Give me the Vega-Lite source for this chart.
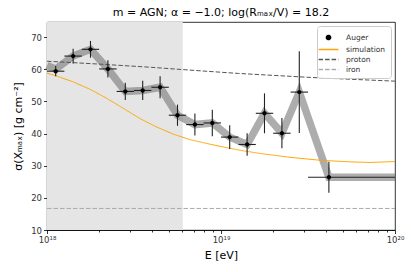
{
  "$schema": "https://vega.github.io/schema/vega-lite/v6.json",
  "autosize": {"type": "none"},
  "width": 348,
  "height": 208,
  "padding": {"left": 47, "top": 22, "right": 16, "bottom": 42},
  "title": {"text": "m = AGN; α = −1.0; log(Rₘₐₓ/V) = 18.2", "font": "DejaVu Sans", "fontSize": 11, "fontWeight": "normal", "offset": 4, "color": "#000"},
  "config": {
    "view": {"stroke": "#000", "strokeWidth": 0.8},
    "axis": {"labelFont": "DejaVu Sans", "titleFont": "DejaVu Sans", "labelFontSize": 8.5, "titleFontSize": 11, "titleFontWeight": "normal", "labelColor": "#333", "titleColor": "#000", "domainColor": "#000", "tickColor": "#000", "grid": false, "domainWidth": 0.8, "tickWidth": 0.8, "labelOverlap": false},
    "axisY": {"labelOverlap": false, "tickCount": 7},
    "legend": {"labelFont": "DejaVu Sans", "labelFontSize": 7.5, "labelColor": "#333"}
  },
  "datasets": {
    "auger": [
      {"series": "Auger", "E": 1.122e18, "Elo": 1e18, "Ehi": 1.259e18, "sigma": 59.4, "lo": 57.8, "hi": 61.0},
      {"series": "Auger", "E": 1.413e18, "Elo": 1.259e18, "Ehi": 1.585e18, "sigma": 64.1, "lo": 61.8, "hi": 66.4},
      {"series": "Auger", "E": 1.778e18, "Elo": 1.585e18, "Ehi": 1.995e18, "sigma": 66.2, "lo": 63.6, "hi": 68.8},
      {"series": "Auger", "E": 2.239e18, "Elo": 1.995e18, "Ehi": 2.512e18, "sigma": 60.1, "lo": 57.4, "hi": 62.8},
      {"series": "Auger", "E": 2.818e18, "Elo": 2.512e18, "Ehi": 3.162e18, "sigma": 53.1, "lo": 50.4, "hi": 55.8},
      {"series": "Auger", "E": 3.548e18, "Elo": 3.162e18, "Ehi": 3.981e18, "sigma": 53.4, "lo": 50.4, "hi": 56.4},
      {"series": "Auger", "E": 4.467e18, "Elo": 3.981e18, "Ehi": 5.012e18, "sigma": 54.4, "lo": 51.0, "hi": 57.8},
      {"series": "Auger", "E": 5.623e18, "Elo": 5.012e18, "Ehi": 6.310e18, "sigma": 45.7, "lo": 42.4, "hi": 49.0},
      {"series": "Auger", "E": 7.079e18, "Elo": 6.310e18, "Ehi": 7.943e18, "sigma": 42.8, "lo": 39.4, "hi": 46.2},
      {"series": "Auger", "E": 8.913e18, "Elo": 7.943e18, "Ehi": 1e19, "sigma": 43.3, "lo": 39.2, "hi": 47.4},
      {"series": "Auger", "E": 1.122e19, "Elo": 1e19, "Ehi": 1.259e19, "sigma": 38.9, "lo": 35.2, "hi": 42.6},
      {"series": "Auger", "E": 1.413e19, "Elo": 1.259e19, "Ehi": 1.585e19, "sigma": 36.6, "lo": 33.1, "hi": 40.1},
      {"series": "Auger", "E": 1.778e19, "Elo": 1.585e19, "Ehi": 1.995e19, "sigma": 46.3, "lo": 40.1, "hi": 52.5},
      {"series": "Auger", "E": 2.239e19, "Elo": 1.995e19, "Ehi": 2.512e19, "sigma": 40.1, "lo": 35.4, "hi": 44.8},
      {"series": "Auger", "E": 2.818e19, "Elo": 2.512e19, "Ehi": 3.162e19, "sigma": 52.9, "lo": 40.2, "hi": 65.6},
      {"series": "Auger", "E": 4.169e19, "Elo": 3.162e19, "Ehi": 1e20, "sigma": 26.4, "lo": 21.6, "hi": 31.2}
    ],
    "band": [
      {"E": 1e18, "sigma": 61.2},
      {"E": 1.122e18, "sigma": 60.0},
      {"E": 1.413e18, "sigma": 64.1},
      {"E": 1.778e18, "sigma": 66.2},
      {"E": 2.239e18, "sigma": 60.1},
      {"E": 2.818e18, "sigma": 53.1},
      {"E": 3.548e18, "sigma": 53.4},
      {"E": 4.467e18, "sigma": 54.4},
      {"E": 5.623e18, "sigma": 45.7},
      {"E": 7.079e18, "sigma": 42.8},
      {"E": 8.913e18, "sigma": 43.3},
      {"E": 1.122e19, "sigma": 38.9},
      {"E": 1.413e19, "sigma": 36.6},
      {"E": 1.778e19, "sigma": 46.3},
      {"E": 2.239e19, "sigma": 40.1},
      {"E": 2.818e19, "sigma": 52.9},
      {"E": 4.169e19, "sigma": 26.4},
      {"E": 1e20, "sigma": 26.4}
    ],
    "curves": [
      {"series": "simulation", "E": 1e18, "sigma": 58.8},
      {"series": "simulation", "E": 1.148e18, "sigma": 57.8},
      {"series": "simulation", "E": 1.426e18, "sigma": 56.0},
      {"series": "simulation", "E": 1.778e18, "sigma": 53.7},
      {"series": "simulation", "E": 2.213e18, "sigma": 50.9},
      {"series": "simulation", "E": 2.754e18, "sigma": 47.8},
      {"series": "simulation", "E": 3.436e18, "sigma": 44.6},
      {"series": "simulation", "E": 4.285e18, "sigma": 42.0},
      {"series": "simulation", "E": 5.333e18, "sigma": 39.8},
      {"series": "simulation", "E": 6.653e18, "sigma": 38.1},
      {"series": "simulation", "E": 8.299e18, "sigma": 36.9},
      {"series": "simulation", "E": 1.033e19, "sigma": 35.8},
      {"series": "simulation", "E": 1.288e19, "sigma": 34.8},
      {"series": "simulation", "E": 1.679e19, "sigma": 33.8},
      {"series": "simulation", "E": 2.495e19, "sigma": 32.6},
      {"series": "simulation", "E": 3.707e19, "sigma": 31.7},
      {"series": "simulation", "E": 5.495e19, "sigma": 31.2},
      {"series": "simulation", "E": 7.178e19, "sigma": 31.0},
      {"series": "simulation", "E": 1e20, "sigma": 31.3},
      {"series": "proton", "E": 1e18, "sigma": 62.5},
      {"series": "proton", "E": 2e18, "sigma": 61.6},
      {"series": "proton", "E": 4e18, "sigma": 60.6},
      {"series": "proton", "E": 6e18, "sigma": 59.9},
      {"series": "proton", "E": 1.26e19, "sigma": 58.7},
      {"series": "proton", "E": 3.16e19, "sigma": 57.5},
      {"series": "proton", "E": 5e19, "sigma": 57.0},
      {"series": "proton", "E": 1e20, "sigma": 56.3},
      {"series": "iron", "E": 1e18, "sigma": 16.7},
      {"series": "iron", "E": 1e20, "sigma": 16.7}
    ],
    "shade": [{"E0": 1e18, "E1": 6.03e18}]
  },
  "layer": [
    {
      "data": {"name": "shade"},
      "mark": {"type": "rect", "color": "#e5e5e5"},
      "encoding": {
        "x": {"field": "E0", "type": "quantitative", "scale": {"type": "log", "domain": [1e18, 1e20], "nice": false},
          "title": "E [eV]",
          "axis": {
            "values": [1e18, 2e18, 3e18, 4e18, 5e18, 6e18, 7e18, 8e18, 9e18, 1e19, 2e19, 3e19, 4e19, 5e19, 6e19, 7e19, 8e19, 9e19, 1e20],
            "labelExpr": "datum.value == 1e18 ? '10¹⁸' : datum.value == 1e19 ? '10¹⁹' : datum.value == 1e20 ? '10²⁰' : ''",
            "labelOverlap": false,
            "labelFlush": false,
            "labelPadding": 2,
            "titlePadding": 5,
            "tickSize": {"condition": {"test": "datum.value == 1e18 || datum.value == 1e19 || datum.value == 1e20", "value": 3.5}, "value": 2}
          }},
        "x2": {"field": "E1"}
      }
    },
    {
      "data": {"name": "band"},
      "mark": {"type": "line", "color": "#777777", "opacity": 0.6, "strokeWidth": 7.5},
      "encoding": {
        "x": {"field": "E", "type": "quantitative"},
        "y": {"field": "sigma", "type": "quantitative", "scale": {"domain": [10, 74.7], "nice": false, "zero": false},
          "title": "σ(Xₘₐₓ) [g cm⁻²]",
          "axis": {"values": [10, 20, 30, 40, 50, 60, 70], "labelExpr": "format(datum.value, 'd')", "labelOverlap": false, "tickSize": 3.5, "labelPadding": 2, "titlePadding": 7}}
      }
    },
    {
      "data": {"name": "curves"},
      "mark": {"type": "line", "strokeWidth": 1},
      "encoding": {
        "x": {"field": "E", "type": "quantitative"},
        "y": {"field": "sigma", "type": "quantitative"},
        "detail": {"field": "series"},
        "color": {"field": "series", "type": "nominal",
          "scale": {"domain": ["Auger", "simulation", "proton", "iron"], "range": ["#000000", "#ffa500", "#555555", "#aaaaaa"]},
          "legend": {"title": null, "orient": "top-right", "offset": 4, "padding": 5, "strokeColor": "#cccccc", "fillColor": "rgba(255,255,255,0.85)", "cornerRadius": 3, "symbolSize": 121, "labelOffset": 11, "rowPadding": 0,
            "encode": {"symbols": {"update": {"stroke": {"scale": "color", "field": "value"}, "fill": {"scale": "color", "field": "value"}, "strokeWidth": {"value": 1.3}}}}}},
        "strokeDash": {"field": "series", "type": "nominal",
          "scale": {"domain": ["Auger", "simulation", "proton", "iron"], "range": [[1, 0], [1, 0], [4.5, 2], [4.5, 2]]},
          "legend": {"title": null}}
      }
    },
    {
      "data": {"name": "auger"},
      "mark": {"type": "rule", "color": "#222", "strokeWidth": 1.1},
      "encoding": {
        "x": {"field": "E", "type": "quantitative"},
        "y": {"field": "lo", "type": "quantitative"},
        "y2": {"field": "hi"}
      }
    },
    {
      "data": {"name": "auger"},
      "mark": {"type": "rule", "color": "#222", "strokeWidth": 1.1},
      "encoding": {
        "x": {"field": "Elo", "type": "quantitative"},
        "x2": {"field": "Ehi"},
        "y": {"field": "sigma", "type": "quantitative"}
      }
    },
    {
      "data": {"name": "auger"},
      "mark": {"type": "point", "filled": true, "opacity": 1, "size": 121},
      "encoding": {
        "x": {"field": "E", "type": "quantitative"},
        "y": {"field": "sigma", "type": "quantitative"},
        "color": {"field": "series", "type": "nominal",
          "scale": {"domain": ["Auger", "simulation", "proton", "iron"], "range": ["#000000", "#ffa500", "#555555", "#aaaaaa"]}},
        "shape": {"field": "series", "type": "nominal",
          "scale": {"domain": ["Auger", "simulation", "proton", "iron"], "range": ["M-0.4,0A0.4,0.4 0 1,1 0.4,0A0.4,0.4 0 1,1 -0.4,0Z", "M-1.8,0H1.8", "M-1.8,0H1.8", "M-1.8,0H1.8"]},
          "legend": {"title": null}}
      }
    }
  ]
}
